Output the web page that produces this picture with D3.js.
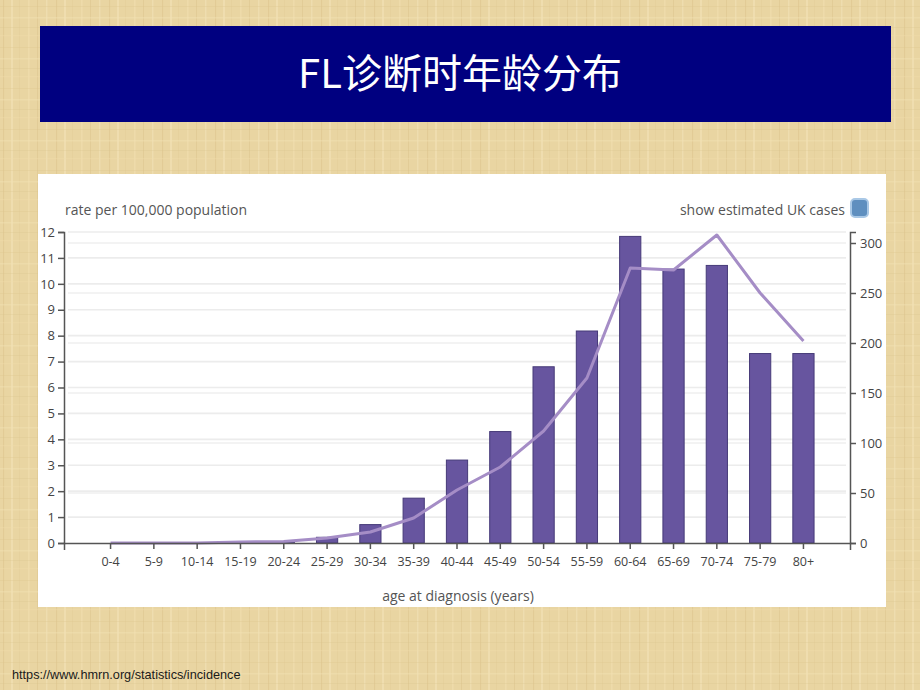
<!DOCTYPE html>
<html><head><meta charset="utf-8">
<script src="https://cdn.jsdelivr.net/npm/d3@7"></script>
<style>html,body{margin:0;padding:0;background:#e7d29f;}svg{display:block;}</style>
</head><body>
<script>
const categories = ["0-4","5-9","10-14","15-19","20-24","25-29","30-34","35-39","40-44","45-49","50-54","55-59","60-64","65-69","70-74","75-79","80+"];
const rateValues = [0,0,0,0.02,0.05,0.22,0.71,1.73,3.2,4.3,6.8,8.18,11.83,10.57,10.71,7.31,7.31];
const caseValues = [0,0,0,1,1.5,5,11,25,53,76,112,165,275,273,308,250,202];
const leftTicks = [0,1,2,3,4,5,6,7,8,9,10,11,12];
const rightTicks = [0,50,100,150,200,250,300];
const titleText = "FL诊断时年龄分布";
const yLabel = "rate per 100,000 population";
const xLabel = "age at diagnosis (years)";
const toggleLabel = "show estimated UK cases";
const sourceText = "https://www.hmrn.org/statistics/incidence";

const W = 920, H = 690;
const svg = d3.select("body").append("svg").attr("width", W).attr("height", H);
const defs = svg.append("defs");

// parchment texture
const pat = defs.append("pattern").attr("id","paper").attr("patternUnits","userSpaceOnUse")
  .attr("width",53).attr("height",41);
pat.append("rect").attr("width",53).attr("height",41).attr("fill","#e9d5a2");
[[3,"#d9c088",1.2,0.45],[11,"#f3e3b8",2,0.6],[19,"#dcc38b",0.8,0.35],[28,"#f1dfb0",1.6,0.55],[37,"#d8bf87",1,0.4],[46,"#f4e5bb",1.4,0.5]].forEach(([x,c,w,o])=>{
  pat.append("rect").attr("x",x).attr("y",0).attr("width",w).attr("height",41).attr("fill",c).attr("opacity",o);
});
[[6,"#dcc48c",1,0.3],[17,"#f2e2b5",1.5,0.45],[27,"#d9c088",0.8,0.3],[35,"#efddab",1.2,0.4]].forEach(([y,c,h,o])=>{
  pat.append("rect").attr("x",0).attr("y",y).attr("width",53).attr("height",h).attr("fill",c).attr("opacity",o);
});
svg.append("rect").attr("width",W).attr("height",H).attr("fill","url(#paper)");

// title banner
svg.append("rect").attr("x",40).attr("y",26).attr("width",851).attr("height",96).attr("fill","#000080");
svg.append("text").attr("x",460).attr("y",88).attr("text-anchor","middle")
  .attr("font-family","'Noto Sans CJK SC','Noto Sans',sans-serif").attr("font-size",40)
  .attr("fill","#ffffff").text(titleText);

// chart panel
svg.append("rect").attr("x",38).attr("y",174).attr("width",848).attr("height",433).attr("fill","#ffffff");

const plot = {left:64, right:850, top:232, bottom:543};
const x = d3.scaleBand().domain(categories).range([plot.left, plot.right]).paddingInner(0.51).paddingOuter(0.83);
const yL = d3.scaleLinear().domain([0,12]).range([plot.bottom, plot.top]);
const yR = d3.scaleLinear().domain([0,311]).range([plot.bottom, plot.top]);

const font = "'Open Sans','DejaVu Sans',sans-serif";

// gridlines
const grid = svg.append("g");
grid.selectAll("line.gl").data(leftTicks.filter(d=>d>0)).join("line")
  .attr("x1",plot.left+4).attr("x2",plot.right-4)
  .attr("y1",d=>yL(d)).attr("y2",d=>yL(d))
  .attr("stroke","#ececec").attr("stroke-width",1.6);
grid.selectAll("line.gr").data(rightTicks.filter(d=>d>0)).join("line")
  .attr("x1",plot.left+4).attr("x2",plot.right-4)
  .attr("y1",d=>yR(d)).attr("y2",d=>yR(d))
  .attr("stroke","#efefef").attr("stroke-width",1.6);

// bars
svg.append("g").selectAll("rect").data(categories).join("rect")
  .attr("x",(d)=>x(d)).attr("width",x.bandwidth())
  .attr("y",(d,i)=>yL(rateValues[i])).attr("height",(d,i)=>plot.bottom - yL(rateValues[i]))
  .attr("fill","#67559f").attr("stroke","#463a78").attr("stroke-width",1);

// line
const line = d3.line().x((d,i)=>x(categories[i]) + x.bandwidth()/2).y(d=>yR(d));
svg.append("path").datum(caseValues).attr("d",line).attr("fill","none")
  .attr("stroke","#a58dc6").attr("stroke-width",3).attr("stroke-linejoin","round");

// axes
function styleAxis(g){
  g.selectAll("path,line").attr("stroke","#555").attr("stroke-width",1.5);
  g.selectAll("text").attr("font-family",font).attr("font-size",13).attr("fill","#444");
}
const gL = svg.append("g").attr("transform",`translate(${plot.left},0)`)
  .call(d3.axisLeft(yL).tickValues(leftTicks).tickSize(6).tickSizeOuter(6).tickPadding(3));
styleAxis(gL);
const gR = svg.append("g").attr("transform",`translate(${plot.right},0)`)
  .call(d3.axisRight(yR).tickValues(rightTicks).tickSize(6).tickSizeOuter(6).tickPadding(4));
styleAxis(gR);
const gX = svg.append("g").attr("transform",`translate(0,${plot.bottom})`)
  .call(d3.axisBottom(x).tickSize(6).tickSizeOuter(7).tickPadding(8));
styleAxis(gX);
gX.selectAll("text").attr("font-size",12.5);

// labels
svg.append("text").attr("x",65).attr("y",215).attr("font-family",font).attr("font-size",14)
  .attr("fill","#555").text(yLabel);
svg.append("text").attr("x",845).attr("y",215).attr("text-anchor","end").attr("font-family",font).attr("font-size",14)
  .attr("fill","#555").text(toggleLabel);
svg.append("rect").attr("x",851).attr("y",199).attr("width",17).attr("height",18).attr("rx",4)
  .attr("fill","#5f8fbf").attr("stroke","#a9c8e6").attr("stroke-width",2);
svg.append("text").attr("x",458).attr("y",601).attr("text-anchor","middle").attr("font-family",font).attr("font-size",14)
  .attr("fill","#555").text(xLabel);

// source
svg.append("text").attr("x",12).attr("y",679).attr("font-family","'Liberation Sans',Arial,sans-serif").attr("font-size",12.7)
  .attr("fill","#1a1a1a").text(sourceText);
</script>
</body></html>
